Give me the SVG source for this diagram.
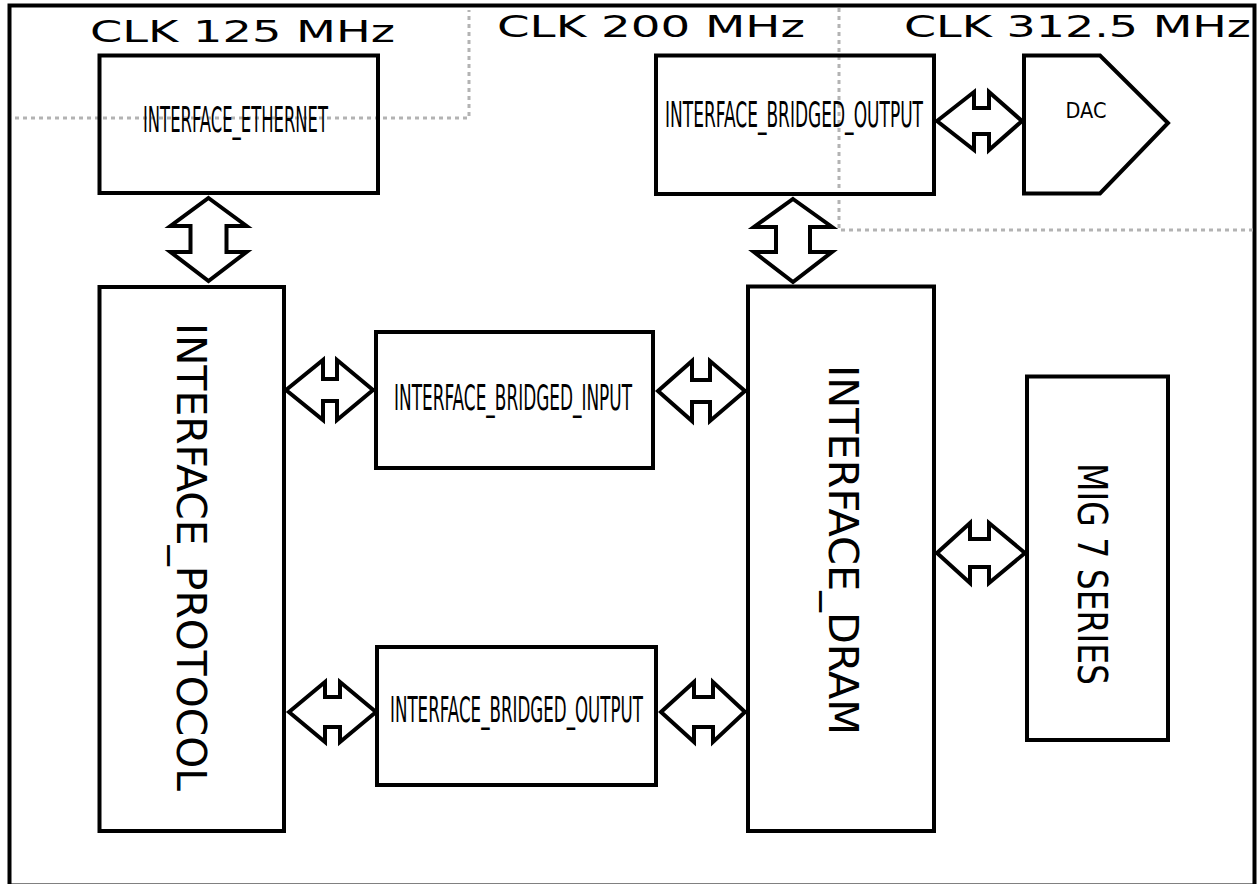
<svg xmlns="http://www.w3.org/2000/svg" width="1260" height="884" viewBox="0 0 1260 884">
<style>
.box{fill:#fff;stroke:#000;stroke-width:4}
.open{fill:none;stroke:#000;stroke-width:4}
.arr{fill:#fff;stroke:#000;stroke-width:4;stroke-linejoin:miter}
.dot{fill:none;stroke:#b3b3b3;stroke-width:3;stroke-dasharray:4 4}
.clk{font-family:"DejaVu Sans",Verdana,sans-serif;font-size:30px;fill:#000}
.lbl{font-family:"DejaVu Sans",sans-serif;font-size:35px;fill:#000;text-anchor:middle}
.rot{font-family:"DejaVu Sans",sans-serif;font-size:40px;fill:#000;text-anchor:middle}
</style>
<rect x="0" y="0" width="1260" height="884" fill="#fff"/>
<rect id="frame" x="9.5" y="5.5" width="1245" height="880" fill="none" stroke="#000" stroke-width="4"/>
<g id="clock-domains">
<polyline class="dot" points="15,118 469,118 469,10"/>
<polyline class="dot" points="839,8 839,230 1253,230"/>
<text class="clk" x="90" y="42" textLength="305" lengthAdjust="spacingAndGlyphs">CLK 125 MHz</text>
<text class="clk" x="497" y="37" textLength="308" lengthAdjust="spacingAndGlyphs">CLK 200 MHz</text>
<text class="clk" x="904" y="37" textLength="347" lengthAdjust="spacingAndGlyphs">CLK 312.5 MHz</text>
</g>
<g id="interface_ethernet">
<rect class="open" x="99.5" y="55.5" width="278.5" height="137.5"/>
<text class="lbl" x="235.5" y="132" textLength="185" lengthAdjust="spacingAndGlyphs">INTERFACE_ETHERNET</text>
</g>
<g id="interface_bridged_output_top">
<rect class="open" x="656" y="55.5" width="278" height="138.5"/>
<text class="lbl" x="794" y="127" textLength="258" lengthAdjust="spacingAndGlyphs">INTERFACE_BRIDGED_OUTPUT</text>
</g>
<g id="dac">
<path class="open" d="M1024,55.5 L1100,55.5 L1168,123 L1100,193.5 L1024,193.5 Z"/>
<text class="lbl" x="1086" y="118" style="font-size:21px" textLength="41" lengthAdjust="spacingAndGlyphs">DAC</text>
</g>
<g id="interface_protocol">
<rect class="box" x="99.5" y="287" width="184.5" height="544"/>
<text class="rot" transform="translate(177,557) rotate(90)" x="0" y="0" textLength="468" lengthAdjust="spacingAndGlyphs">INTERFACE_PROTOCOL</text>
</g>
<g id="interface_bridged_input">
<rect class="box" x="376" y="332" width="277" height="136"/>
<text class="lbl" x="513" y="410" textLength="238" lengthAdjust="spacingAndGlyphs">INTERFACE_BRIDGED_INPUT</text>
</g>
<g id="interface_bridged_output_bottom">
<rect class="box" x="377" y="647" width="279" height="138"/>
<text class="lbl" x="516.5" y="722" textLength="253" lengthAdjust="spacingAndGlyphs">INTERFACE_BRIDGED_OUTPUT</text>
</g>
<g id="interface_dram">
<rect class="box" x="748" y="286.5" width="186" height="544.5"/>
<text class="rot" transform="translate(829,550) rotate(90)" x="0" y="0" textLength="370" lengthAdjust="spacingAndGlyphs">INTERFACE_DRAM</text>
</g>
<g id="mig_7_series">
<rect class="box" x="1027" y="376.5" width="141" height="363.5"/>
<text class="rot" transform="translate(1078,574) rotate(90)" x="0" y="0" textLength="222" lengthAdjust="spacingAndGlyphs">MIG 7 SERIES</text>
</g>
<g id="connectors">
<path class="arr" d="M208.5,198 L246.5,226 L226.5,226 L226.5,252 L246.5,252 L208.5,281 L170.5,252 L190.5,252 L190.5,226 L170.5,226 Z"/>
<path class="arr" d="M793,199 L832,227 L810,227 L810,252 L832,252 L793,282 L754,252 L776,252 L776,227 L754,227 Z"/>
<path class="arr" d="M937,121 L974,92 L974,108 L989,108 L989,92 L1022,121 L989,150 L989,134 L974,134 L974,150 Z"/>
<path class="arr" d="M286,390 L323,360 L323,379 L337,379 L337,360 L373,390 L337,420 L337,401 L323,401 L323,420 Z"/>
<path class="arr" d="M658,391 L692,361 L692,380 L710,380 L710,361 L745,391 L710,421 L710,402 L692,402 L692,421 Z"/>
<path class="arr" d="M289,712 L325,682 L325,697 L340,697 L340,682 L376,712 L340,742 L340,727 L325,727 L325,742 Z"/>
<path class="arr" d="M661,712 L694,682 L694,697 L713,697 L713,682 L745,712 L713,742 L713,727 L694,727 L694,742 Z"/>
<path class="arr" d="M937,553 L970,523 L970,539 L989,539 L989,523 L1025,553 L989,583 L989,567 L970,567 L970,583 Z"/>
</g>
</svg>
